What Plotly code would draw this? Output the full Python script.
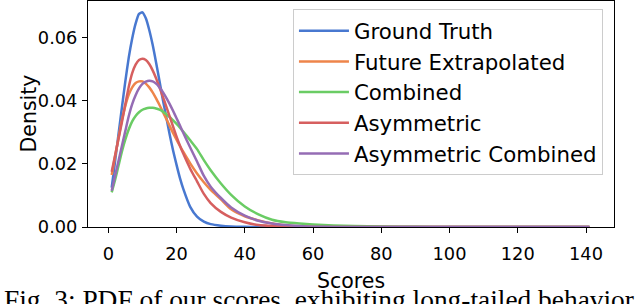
import plotly.graph_objects as go

scores = [1, 2, 3, 4, 5, 6, 7, 8, 9, 10, 11, 12, 13, 14, 15, 16, 17, 18, 19, 20, 21, 22,
          24, 26, 28, 30, 33, 36, 40, 44, 48, 52, 56, 60, 66, 72, 80, 90, 100, 110, 120, 130, 141]

ground_truth = [0.0125, 0.0210, 0.0295, 0.0380, 0.0463, 0.0538, 0.0598, 0.0645, 0.0676, 0.0681,
                0.0662, 0.0625, 0.0578, 0.0522, 0.0463, 0.0403, 0.0348, 0.0293, 0.0242, 0.0197,
                0.0155, 0.0120, 0.0064, 0.0033, 0.0017, 0.0009, 0.0004, 0.00015, 0.00005, 0.00002,
                0, 0, 0, 0, 0, 0, 0, 0, 0, 0, 0, 0, 0]

future_extrapolated = [0.0165, 0.0225, 0.0283, 0.0340, 0.0385, 0.0420, 0.0443, 0.0457, 0.0462, 0.0462,
                       0.0455, 0.0443, 0.0427, 0.0408, 0.0387, 0.0365, 0.0343, 0.0320, 0.0298, 0.0277,
                       0.0257, 0.0238, 0.0202, 0.0170, 0.0142, 0.0118, 0.0088, 0.0056, 0.0034, 0.0021,
                       0.0011, 0.0005, 0.0002, 0.0001, 0, 0, 0, 0, 0, 0, 0, 0, 0]

combined = [0.0110, 0.0150, 0.0195, 0.0240, 0.0278, 0.0310, 0.0335, 0.0352, 0.0364, 0.0372,
            0.0376, 0.0378, 0.0378, 0.0376, 0.0372, 0.0366, 0.0358, 0.0349, 0.0338, 0.0327,
            0.0315, 0.0302, 0.0275, 0.0247, 0.0212, 0.0180, 0.0138, 0.0102, 0.0065, 0.0040,
            0.0023, 0.0015, 0.0011, 0.0008, 0.0005, 0.0003, 0.00015, 0.00006, 0.00002, 0, 0, 0, 0]

asymmetric = [0.0175, 0.0228, 0.0280, 0.0333, 0.0390, 0.0445, 0.0488, 0.0515, 0.0530, 0.0534,
              0.0530, 0.0517, 0.0497, 0.0472, 0.0443, 0.0413, 0.0382, 0.0350, 0.0318, 0.0287,
              0.0258, 0.0232, 0.0185, 0.0145, 0.0105, 0.0076, 0.0048, 0.0030, 0.0015, 0.0006,
              0.0003, 0.0001, 0, 0, 0, 0, 0, 0, 0, 0, 0, 0, 0]

asymmetric_combined = [0.0115, 0.0163, 0.0210, 0.0258, 0.0305, 0.0352, 0.0390, 0.0418, 0.0440, 0.0454,
                       0.0461, 0.0464, 0.0462, 0.0455, 0.0443, 0.0428, 0.0410, 0.0390, 0.0368, 0.0345,
                       0.0322, 0.0298, 0.0252, 0.0208, 0.0162, 0.0128, 0.0092, 0.0062, 0.0036, 0.0020,
                       0.0011, 0.0006, 0.0003, 0.0001, 0, 0, 0, 0, 0, 0, 0, 0, 0]

series_names = ["Ground Truth", "Future Extrapolated", "Combined", "Asymmetric", "Asymmetric Combined"]
series_values = [ground_truth, future_extrapolated, combined, asymmetric, asymmetric_combined]
colors = ["#4878d0", "#ee854a", "#6acc64", "#d65f5f", "#956cb4"]

x_ticks = [0, 20, 40, 60, 80, 100, 120, 140]
y_ticks = [0.00, 0.02, 0.04, 0.06]
y_tick_labels = ["0.00", "0.02", "0.04", "0.06"]
x_title = "Scores"
y_title = "Density"
caption = "Fig. 3: PDF of our scores, exhibiting long-tailed behavior."

fig = go.Figure()
for name, vals, col in zip(series_names, series_values, colors):
    fig.add_trace(go.Scatter(x=scores, y=vals, mode="lines", name=name,
                             line=dict(color=col, width=2.5, shape="spline", smoothing=0.6)))

font_sans = "DejaVu Sans"
fig.update_layout(
    width=640, height=304, autosize=False,
    margin=dict(l=88, r=26, t=1, b=77, pad=0),
    paper_bgcolor="white", plot_bgcolor="white",
    font=dict(family=font_sans, color="black", size=17.8),
    showlegend=True,
    legend=dict(x=0.979, y=0.963, xanchor="right", yanchor="top",
                bgcolor="rgba(255,255,255,0.8)", bordercolor="#cccccc", borderwidth=1,
                font=dict(family=font_sans, size=21.3, color="black"),
                itemwidth=50),
    xaxis=dict(range=[-5.95, 148.2], tickmode="array", tickvals=x_ticks,
               ticks="outside", ticklen=5, tickwidth=1, tickcolor="black",
               showline=True, linecolor="black", linewidth=1, mirror=True,
               showgrid=False, zeroline=False, automargin=False,
               tickfont=dict(size=17.8), ticklabelstandoff=6),
    yaxis=dict(range=[0, 0.0717], tickmode="array", tickvals=y_ticks, ticktext=y_tick_labels,
               ticks="outside", ticklen=5, tickwidth=1, tickcolor="black",
               showline=True, linecolor="black", linewidth=1, mirror=True,
               showgrid=False, zeroline=False, automargin=False,
               tickfont=dict(size=17.8), ticklabelstandoff=1),
)

fig.add_annotation(text=x_title, xref="paper", yref="paper", x=0.5, y=-0.240,
                   xanchor="center", yanchor="middle", showarrow=False,
                   font=dict(family=font_sans, size=20.5, color="black"))
fig.add_annotation(text=y_title, xref="paper", yref="paper", x=-0.1131, y=0.5,
                   xanchor="center", yanchor="middle", showarrow=False, textangle=-90,
                   font=dict(family=font_sans, size=20.5, color="black"))
fig.add_annotation(text=caption, xref="paper", yref="paper", x=-0.1635, y=-0.247,
                   xanchor="left", yanchor="top", showarrow=False, align="left",
                   font=dict(family="Liberation Serif", size=27.4, color="black"))

fig.write_html("out.html", config={"displayModeBar": False},
               post_script="document.body.style.margin='0';")
